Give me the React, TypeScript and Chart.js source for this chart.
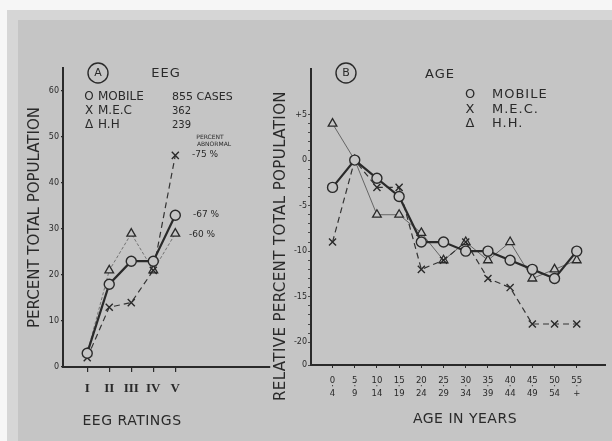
import React, { useEffect, useRef } from "react";
import { Chart, registerables } from "chart.js";

Chart.register(...registerables);

// ---------- DATA ----------
// Panel A: EEG ratings
const eegRatings = ["I", "II", "III", "IV", "V"];
const eegMobile = [3, 18, 23, 23, 33];
const eegMEC = [2, 13, 14, 21, 46];
const eegHH = [3, 21, 29, 21, 29];
const eegYTicks = [0, 10, 20, 30, 40, 50, 60];
const eegYTickLabels = ["0", "10", "20", "30", "40", "50", "60"];

// Panel B: age groups
const ageFrom = ["0", "5", "10", "15", "20", "25", "30", "35", "40", "45", "50", "55"];
const ageTo = ["4", "9", "14", "19", "24", "29", "34", "39", "44", "49", "54", "+"];
const ageMobile = [-3, 0, -2, -4, -9, -9, -10, -10, -11, -12, -13, -10];
const ageMEC = [-9, 0, -3, -3, -12, -11, -9, -13, -14, -18, -18, -18];
const ageHH = [4, 0, -6, -6, -8, -11, -9, -11, -9, -13, -12, -11];
const ageYTicks = [5, 0, -5, -10, -15, -20];
const ageYTickLabels = ["+5", "0", "-5", "-10", "-15", "-20"];
const ageAxisBaseValue = -22.5;
const ageAxisBaseLabel = "0";

// ---------- STYLE ----------
const INK = "#2a2a2a";
const PAPER = "#c5c5c5";
const FONT = "'DejaVu Sans', sans-serif";

const mobileStyle = {
  borderColor: INK,
  borderWidth: 2.2,
  pointStyle: "circle",
  pointRadius: 5,
  pointBackgroundColor: PAPER,
  pointBorderColor: INK,
  pointBorderWidth: 1.4,
};
const mecStyle = {
  borderColor: "#333",
  borderWidth: 1.2,
  borderDash: [6, 4],
  pointStyle: "crossRot",
  pointRadius: 5,
  pointBorderColor: INK,
  pointBorderWidth: 1.4,
};
const hhStyleA = {
  borderColor: "#6a6a6a",
  borderWidth: 0.9,
  borderDash: [3, 2],
  pointStyle: "triangle",
  pointRadius: 5,
  pointBackgroundColor: PAPER,
  pointBorderColor: INK,
  pointBorderWidth: 1.3,
};
const hhStyleB = { ...hhStyleA, borderDash: [], borderColor: "#5a5a5a" };

type TextItem = {
  text: string;
  x: number;
  y: number;
  size: number;
  align?: CanvasTextAlign;
  rotate?: boolean;
  spacing?: number;
  family?: string;
};
type CircleItem = { x: number; y: number; r: number };

const textsA: TextItem[] = [
  { text: "A", x: 98, y: 73, size: 11, align: "center" },
  { text: "EEG", x: 166, y: 74, size: 13, align: "center", spacing: 1 },
  { text: "O", x: 89, y: 97, size: 12, align: "center" },
  { text: "MOBILE", x: 98, y: 97, size: 12 },
  { text: "855 CASES", x: 172, y: 97, size: 11 },
  { text: "X", x: 89, y: 111, size: 12, align: "center" },
  { text: "M.E.C", x: 98, y: 111, size: 12 },
  { text: "362", x: 172, y: 111, size: 10 },
  { text: "Δ", x: 89, y: 125, size: 12, align: "center" },
  { text: "H.H", x: 98, y: 125, size: 12 },
  { text: "239", x: 172, y: 125, size: 10 },
  { text: "PERCENT", x: 210, y: 137, size: 6, align: "center" },
  { text: "ABNORMAL", x: 214, y: 144, size: 6, align: "center" },
  { text: "-75 %", x: 192, y: 155, size: 9 },
  { text: "-67 %", x: 193, y: 215, size: 9 },
  { text: "-60 %", x: 189, y: 235, size: 9 },
  { text: "EEG RATINGS", x: 132, y: 421, size: 14, align: "center", spacing: 0.5 },
];
const circlesA: CircleItem[] = [{ x: 98, y: 73, r: 10 }];

const textsB: TextItem[] = [
  { text: "B", x: 346, y: 73, size: 11, align: "center" },
  { text: "AGE", x: 440, y: 75, size: 13, align: "center", spacing: 1 },
  { text: "O", x: 470, y: 95, size: 13, align: "center" },
  { text: "MOBILE", x: 492, y: 95, size: 13, spacing: 1 },
  { text: "X", x: 470, y: 110, size: 13, align: "center" },
  { text: "M.E.C.", x: 492, y: 110, size: 13, spacing: 1 },
  { text: "Δ", x: 470, y: 124, size: 13, align: "center" },
  { text: "H.H.", x: 492, y: 124, size: 13, spacing: 1 },
  { text: "AGE IN YEARS", x: 465, y: 419, size: 14, align: "center", spacing: 0.5 },
  { text: "RELATIVE PERCENT TOTAL POPULATION", x: 281, y: 246, size: 15, align: "center", rotate: true, spacing: 0.4 },
];
const circlesB: CircleItem[] = [{ x: 346, y: 73, r: 10 }];

function makeTextPlugin(id: string, texts: TextItem[], circles: CircleItem[], offsetX: number) {
  return {
    id,
    afterDraw(chart: any) {
      const ctx: CanvasRenderingContext2D = chart.ctx;
      ctx.save();
      ctx.strokeStyle = INK;
      ctx.fillStyle = INK;
      for (const c of circles) {
        ctx.beginPath();
        ctx.lineWidth = 1.4;
        ctx.arc(c.x - offsetX, c.y, c.r, 0, Math.PI * 2);
        ctx.stroke();
      }
      for (const t of texts) {
        ctx.save();
        ctx.font = `${t.size}px ${t.family || FONT}`;
        (ctx as any).letterSpacing = `${t.spacing ?? 0}px`;
        ctx.textAlign = t.align || "left";
        ctx.textBaseline = "middle";
        ctx.translate(t.x - offsetX, t.y);
        if (t.rotate) ctx.rotate(-Math.PI / 2);
        ctx.fillText(t.text, 0, 0);
        ctx.restore();
      }
      ctx.restore();
    },
  };
}

const OFFSET_B = 262;

export default function App() {
  const refA = useRef<HTMLCanvasElement>(null);
  const refB = useRef<HTMLCanvasElement>(null);

  useEffect(() => {
    const toPts = (vals: number[], shift: number) => vals.map((v, i) => ({ x: i + shift, y: v }));

    const chartA = new Chart(refA.current!, {
      type: "line",
      data: {
        datasets: [
          { label: "MOBILE", data: toPts(eegMobile, 1), ...mobileStyle } as any,
          { label: "M.E.C", data: toPts(eegMEC, 1), ...mecStyle } as any,
          { label: "H.H", data: toPts(eegHH, 1), ...hhStyleA } as any,
        ],
      },
      options: {
        animation: false,
        responsive: false,
        layout: { padding: { left: 0, right: 30, top: 68, bottom: 0 } },
        plugins: { legend: { display: false }, tooltip: { enabled: false } },
        scales: {
          x: {
            type: "linear",
            min: -0.1,
            max: 9.3,
            afterBuildTicks: (s: any) => {
              s.ticks = eegRatings.map((_, i) => ({ value: i + 1 }));
            },
            afterFit: (s: any) => {
              s.height = 441 - 367;
            },
            ticks: {
              autoSkip: false,
              maxRotation: 0,
              padding: 9,
              color: INK,
              font: { family: "'Liberation Serif', serif", size: 13, weight: "bold" },
              callback: (v: any) => eegRatings[Math.round(v) - 1] ?? "",
            },
            grid: { drawOnChartArea: false, tickLength: 5, color: INK, lineWidth: 1.2 },
            border: { color: INK, width: 2 },
          },
          y: {
            type: "linear",
            min: 0,
            max: 65,
            afterBuildTicks: (s: any) => {
              s.ticks = eegYTicks.map((v) => ({ value: v }));
            },
            afterFit: (s: any) => {
              s.width = 63;
            },
            ticks: {
              padding: 2,
              color: INK,
              font: { family: FONT, size: 8 },
              callback: (v: any) => eegYTickLabels[eegYTicks.indexOf(v)] ?? "",
            },
            grid: { drawOnChartArea: false, tickLength: 2, color: INK, lineWidth: 1.2 },
            border: { color: INK, width: 2 },
            title: {
              display: true,
              text: "PERCENT TOTAL POPULATION",
              color: INK,
              font: { family: FONT, size: 15 },
              padding: { top: 26, bottom: 0 },
            },
          },
        },
      } as any,
      plugins: [makeTextPlugin("textA", textsA, circlesA, 0)],
    });

    const chartB = new Chart(refB.current!, {
      type: "line",
      data: {
        datasets: [
          { label: "MOBILE", data: toPts(ageMobile, 0), ...mobileStyle } as any,
          { label: "M.E.C.", data: toPts(ageMEC, 0), ...mecStyle } as any,
          { label: "H.H.", data: toPts(ageHH, 0), ...hhStyleB } as any,
        ],
      },
      options: {
        animation: false,
        responsive: false,
        layout: { padding: { left: 0, right: 0, top: 69, bottom: 0 } },
        plugins: { legend: { display: false }, tooltip: { enabled: false } },
        scales: {
          x: {
            type: "linear",
            min: -0.97,
            max: 12.3,
            afterBuildTicks: (s: any) => {
              s.ticks = ageFrom.map((_, i) => ({ value: i }));
            },
            afterFit: (s: any) => {
              s.height = 441 - 365;
            },
            ticks: {
              autoSkip: false,
              maxRotation: 0,
              padding: 9,
              color: INK,
              font: { family: FONT, size: 8.5, lineHeight: 0.8 },
              callback: (v: any) => {
                const i = Math.round(v);
                return ageFrom[i] !== undefined ? [ageFrom[i], "·", ageTo[i]] : "";
              },
            },
            grid: { drawOnChartArea: false, tickLength: 3, color: INK, lineWidth: 1 },
            border: { color: INK, width: 2 },
          },
          y: {
            type: "linear",
            min: -22.5,
            max: 10,
            afterBuildTicks: (s: any) => {
              const t: any[] = [{ value: ageAxisBaseValue }];
              for (let v = ageYTicks[ageYTicks.length - 1]; v <= ageYTicks[0]; v++) t.push({ value: v });
              s.ticks = t;
            },
            afterFit: (s: any) => {
              s.width = 311 - OFFSET_B;
            },
            ticks: {
              padding: 1,
              color: INK,
              font: { family: FONT, size: 8 },
              autoSkip: false,
              callback: (v: any) => {
                if (v === ageAxisBaseValue) return ageAxisBaseLabel;
                const i = ageYTicks.indexOf(v);
                return i >= 0 ? ageYTickLabels[i] : "";
              },
            },
            grid: { drawOnChartArea: false, tickLength: 3, color: INK, lineWidth: 0.8 },
            border: { color: INK, width: 2 },
          },
        },
      } as any,
      plugins: [makeTextPlugin("textB", textsB, circlesB, OFFSET_B)],
    });

    return () => {
      chartA.destroy();
      chartB.destroy();
    };
  }, []);

  return (
    <div
      style={{
        position: "fixed",
        left: 0,
        top: 0,
        width: 612,
        height: 441,
        background: "#f6f6f6",
        overflow: "hidden",
      }}
    >
      <div style={{ position: "absolute", left: 7, top: 10, right: 0, bottom: 0, background: "#d6d6d6" }} />
      <div style={{ position: "absolute", left: 18, top: 20, right: 0, bottom: 0, background: PAPER }} />
      <canvas
        ref={refA}
        width={300}
        height={441}
        style={{ position: "absolute", left: 0, top: 0, width: 300, height: 441 }}
      />
      <canvas
        ref={refB}
        width={612 - OFFSET_B}
        height={441}
        style={{ position: "absolute", left: OFFSET_B, top: 0, width: 612 - OFFSET_B, height: 441 }}
      />
    </div>
  );
}
